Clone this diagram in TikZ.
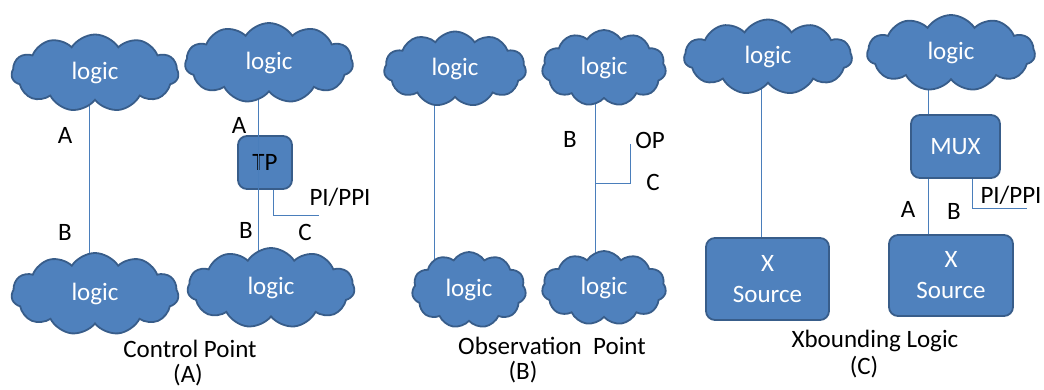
\documentclass[tikz,border=0pt]{standalone}
\usepackage{fontspec}
\setmainfont{Carlito}
\usetikzlibrary{shapes.symbols,backgrounds}
\definecolor{fillblue}{HTML}{4F81BD}
\definecolor{edgeblue}{HTML}{385D8A}
\definecolor{wireblue}{HTML}{4A7EBB}
\pgfdeclarelayer{wires}
\pgfsetlayers{background,wires,main}
\begin{document}
\begin{tikzpicture}[x=1pt,y=-1pt,
  logic/.style={cloud, cloud puffs=11, cloud puff arc=115, cloud ignores aspect,
    draw=edgeblue, line width=1.8pt, fill=fillblue, text=white,
    font=\fontsize{25}{30}\selectfont, inner sep=0pt},
  blockbox/.style={rectangle, rounded corners=9pt, draw=edgeblue, line width=1.8pt,
    fill=fillblue, text=white, align=center, inner sep=0pt,
    font=\fontsize{25}{31}\selectfont},
  wire/.style={draw=wireblue, line width=1pt},
  lbl/.style={font=\fontsize{25}{28}\selectfont, inner sep=0pt},
  caption/.style={font=\fontsize{25}{27}\selectfont, inner sep=0pt}]
\useasboundingbox (0,0) rectangle (1044,389);

% ---------- (A) control point ----------
\node[logic, minimum width=167, minimum height=77] (a1) at (95,73) {logic};
\node[logic, minimum width=168, minimum height=80] (a2) at (269,63) {logic};
\node[logic, minimum width=167, minimum height=82] (a3) at (95,294) {logic};
\node[logic, minimum width=167, minimum height=80] (a4) at (271,288) {logic};
\begin{pgfonlayer}{background}
  \node[blockbox, minimum width=54, minimum height=53, text=black] (tp) at (265,162.5) {TP};
\end{pgfonlayer}
\coordinate (tpout) at (319,215);
\begin{pgfonlayer}{wires}
  \draw[wire] ([xshift=-6pt]a1.center) -- ([xshift=-6pt]a1.center |- a3.center);
  \draw[wire] ([xshift=-11pt]a2.center) -- ([xshift=-11pt]a2.center |- a4.center);
  \draw[wire] ([xshift=8pt]tp.south) |- (tpout);
\end{pgfonlayer}
\node[lbl] (la1) at (65,135) {A};
\node[lbl] (lb1) at (65,232) {B};
\node[lbl] (la2) at (239,125) {A};
\node[lbl] (lb2) at (246,230) {B};
\node[lbl] (lc2) at (305,232) {C};
\node[lbl] (lpi1) at (340,197) {PI/PPI};
\node[caption] (capa1) at (190,349) {Control Point};
\node[caption] (capa2) at (188,375) {(A)};

% ---------- (B) observation point ----------
\node[logic, minimum width=142, minimum height=75] (b1) at (455,69) {logic};
\node[logic, minimum width=124, minimum height=76] (b2) at (604,68) {logic};
\node[logic, minimum width=114, minimum height=76] (b3) at (469,290) {logic};
\node[logic, minimum width=124, minimum height=74] (b4) at (604,288) {logic};
\coordinate (opj) at (595,183);
\coordinate (opend) at (630,144);
\begin{pgfonlayer}{wires}
  \draw[wire] ([xshift=-21pt]b1.center) -- ([xshift=-21pt]b1.center |- b3.center);
  \draw[wire] ([xshift=-9pt]b2.center) -- ([xshift=-9pt]b2.center |- b4.center);
  \draw[wire] (opj) -| (opend);
\end{pgfonlayer}
\node[lbl] (lb3) at (570,139) {B};
\node[lbl] (lop) at (650,140) {OP};
\node[lbl] (lc3) at (653,182) {C};
\node[caption] (capb1) at (552,346) {Observation~ Point};
\node[caption] (capb2) at (523,372) {(B)};

% ---------- (C) X-bounding logic ----------
\node[logic, minimum width=168, minimum height=75] (c1) at (768,57) {logic};
\node[logic, minimum width=168, minimum height=76] (c2) at (951,53) {logic};
\node[blockbox, minimum width=123, minimum height=82] (xs1) at (767.5,279) {X\\Source};
\node[blockbox, minimum width=89, minimum height=63] (mux) at (955.5,146.5) {MUX};
\node[blockbox, minimum width=124, minimum height=81] (xs2) at (951,275.5) {X\\Source};
\coordinate (muxout) at (1027,208);
\begin{pgfonlayer}{wires}
  \draw[wire] ([xshift=-7pt]c1.center) -- ([xshift=-7pt]c1.center |- xs1.center);
  \draw[wire] ([xshift=-23pt]c2.center) -- ([xshift=-23pt]c2.center |- xs2.center);
  \draw[wire] ([xshift=16.5pt]mux.south) |- (muxout);
\end{pgfonlayer}
\node[lbl] (lpi2) at (1011,195) {PI/PPI};
\node[lbl] (la3) at (908,209) {A};
\node[lbl] (lb4) at (954,211) {B};
\node[caption] (capc1) at (875,341) {Xbounding Logic};
\node[caption] (capc2) at (864,367) {(C)};
\end{tikzpicture}
\end{document}
